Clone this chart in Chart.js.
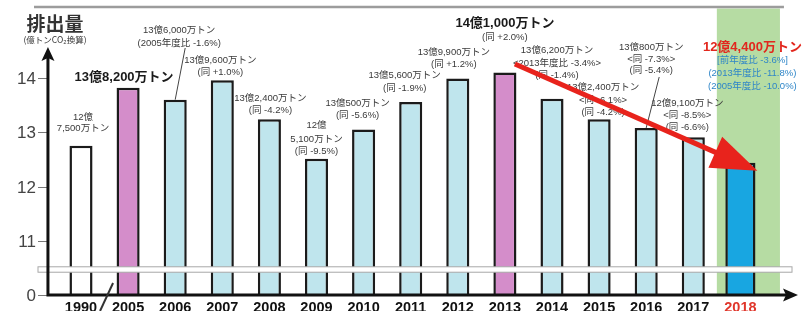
<!DOCTYPE html>
<html>
<head>
<meta charset="utf-8">
<script src="https://cdn.jsdelivr.net/npm/chart.js@4.4.1/dist/chart.umd.min.js"></script>
<style>
  html, body { margin: 0; padding: 0; background: #fff; }
</style>
</head>
<body>
<canvas id="emissionsChart" width="802" height="311"></canvas>
<script>
// 温室効果ガス排出量 (億トンCO2換算)
const years = ['1990', '2005', '2006', '2007', '2008', '2009', '2010', '2011', '2012', '2013', '2014', '2015', '2016', '2017', '2018'];
const emissions = [12.75, 13.82, 13.60, 13.96, 13.24, 12.51, 13.05, 13.56, 13.99, 14.10, 13.62, 13.24, 13.08, 12.91, 12.44];
const vs2005 = [null, null, -1.6, 1.0, -4.2, -9.5, -5.6, -1.9, 1.2, 2.0, -1.4, -4.2, -5.4, -6.6, -10.0];
const vs2013 = [null, null, null, null, null, null, null, null, null, null, -3.4, -6.1, -7.3, -8.5, -11.8];
const vsPrev = [null, null, null, null, null, null, null, null, null, null, null, null, null, null, -3.6];
const yTicks = [11, 12, 13, 14];
const yMin = 10;          // axis is broken below 11, bottom shown as "0"
const yMinLabel = '0';
const baseYears = ['2005', '2013'];
const latestYear = '2018';

const FONT = '"Liberation Sans", "Noto Sans CJK JP", sans-serif';
const iLatest = years.indexOf(latestYear);

const barColor = (yr) => {
    if (yr === latestYear) return '#18a6e1';
    if (baseYears.includes(yr)) return '#d48dca';
    if (yr === years[0]) return '#ffffff';
    return '#bfe5ed';
};

const pct = (v) => (v > 0 ? '+' : '') + v.toFixed(1) + '%';

const tonText = (v) => {
    const oku = Math.floor(v);
    const man = Math.round((v - oku) * 10000);
    return [oku + '億', man.toLocaleString('en-US') + '万トン'];
};

// where each note sits: offset from the bar centre and the middle of each text line
const noteLayout = {
    '1990': { dx: 2, ys: [117, 128], split: true },
    '2005': { dx: -4, ys: [77], big: true },
    '2006': { dx: 4, ys: [30, 43], lead: { dx: 10, y: 48 } },
    '2007': { dx: -2, ys: [60, 72] },
    '2008': { dx: 1, ys: [98, 110] },
    '2009': { dx: 0, ys: [125, 139, 151], split: true },
    '2010': { dx: -6, ys: [103, 115] },
    '2011': { dx: -6, ys: [75, 88] },
    '2012': { dx: -4, ys: [52, 64] },
    '2013': { dx: 0, ys: [23, 37], big: true },
    '2014': { dx: 5, ys: [50, 63, 75] },
    '2015': { dx: 4, ys: [87, 100, 112] },
    '2016': { dx: 5, ys: [47, 59, 70], lead: { dx: 13, y: 77 } },
    '2017': { dx: -6, ys: [103, 115, 127] },
    '2018': { dx: 12, ys: [47, 60, 73, 86], big: true }
};

const buildLines = (i) => {
    const [oku, man] = tonText(emissions[i]);
    const lay = noteLayout[years[i]];
    if (years[i] === latestYear) {
        return [oku + man, '[前年度比 ' + pct(vsPrev[i]) + ']', '(2013年度比 ' + pct(vs2013[i]) + ')', '(2005年度比 ' + pct(vs2005[i]) + ')'];
    }
    const lines = lay.split ? [oku, man] : [oku + man];
    if (vs2013[i] !== null) {
        const first = vs2013.findIndex((v, k) => v !== null && k !== iLatest) === i;
        lines.push(first ? '<2013年度比 ' + pct(vs2013[i]) + '>' : '<同 ' + pct(vs2013[i]) + '>');
    }
    if (vs2005[i] !== null) {
        const first = vs2005.findIndex((v) => v !== null) === i;
        lines.push(first ? '(2005年度比 ' + pct(vs2005[i]) + ')' : '(同 ' + pct(vs2005[i]) + ')');
    }
    return lines;
};

const decor = {
    id: 'decor',
    beforeDatasetsDraw(chart) {
        const { ctx, chartArea: a, scales: { x } } = chart;
        const half = (x.getPixelForValue(1) - x.getPixelForValue(0)) / 2;
        const xl = x.getPixelForValue(iLatest);
        ctx.save();
        ctx.fillStyle = '#b6dca3';
        ctx.fillRect(xl - half, a.top + 1, half * 2 + 16, a.bottom - a.top - 1);
        ctx.strokeStyle = '#9c9c9c';
        ctx.lineWidth = 2.5;
        ctx.beginPath();
        ctx.moveTo(34, a.top - 0.5);
        ctx.lineTo(xl + half + 20, a.top - 0.5);
        ctx.stroke();
        ctx.restore();
    },
    afterDatasetsDraw(chart) {
        const { ctx, chartArea: a, scales: { x, y } } = chart;
        const axisX = a.left - 9.5;
        const axisY = y.getPixelForValue(yMin);
        ctx.save();

        // axis break band
        const bTop = y.getPixelForValue(10.52);
        const bBot = y.getPixelForValue(10.42);
        ctx.fillStyle = '#ffffff';
        ctx.fillRect(38, bTop, 754, bBot - bTop);
        ctx.strokeStyle = '#a8a8a8';
        ctx.lineWidth = 1;
        ctx.strokeRect(38, bTop, 754, bBot - bTop);

        // y ticks
        ctx.font = '17px ' + FONT;
        ctx.fillStyle = '#444';
        ctx.textAlign = 'right';
        ctx.textBaseline = 'middle';
        ctx.strokeStyle = '#777';
        [yMin].concat(yTicks).forEach((t) => {
            const py = Math.round(y.getPixelForValue(t)) + 0.5;
            ctx.beginPath();
            ctx.moveTo(38, py);
            ctx.lineTo(axisX, py);
            ctx.stroke();
            ctx.fillText(t === yMin ? yMinLabel : String(t), 36, py + 1);
        });

        // axes with arrow heads
        ctx.strokeStyle = '#111';
        ctx.fillStyle = '#111';
        ctx.lineWidth = 3;
        ctx.beginPath();
        ctx.moveTo(axisX, axisY);
        ctx.lineTo(axisX, 58);
        ctx.moveTo(axisX - 1.5, axisY);
        ctx.lineTo(788, axisY);
        ctx.stroke();
        ctx.beginPath();
        ctx.moveTo(axisX, 47);
        ctx.lineTo(axisX - 6.5, 61);
        ctx.lineTo(axisX, 58);
        ctx.lineTo(axisX + 6.5, 61);
        ctx.closePath();
        ctx.fill();
        ctx.beginPath();
        ctx.moveTo(798, axisY);
        ctx.lineTo(783, axisY - 6.5);
        ctx.lineTo(786, axisY);
        ctx.lineTo(783, axisY + 6.5);
        ctx.closePath();
        ctx.fill();

        // break slash between 1990 and 2005
        const bx = (x.getPixelForValue(0) + x.getPixelForValue(1)) / 2;
        ctx.strokeStyle = '#333';
        ctx.lineWidth = 2;
        ctx.beginPath();
        ctx.moveTo(bx - 4.5, 311);
        ctx.lineTo(bx + 8.5, 283);
        ctx.stroke();

        // year labels
        ctx.font = 'bold 14.5px ' + FONT;
        ctx.textAlign = 'center';
        ctx.textBaseline = 'alphabetic';
        years.forEach((yr, i) => {
            ctx.fillStyle = yr === latestYear ? '#e0362b' : '#111';
            ctx.fillText(yr, x.getPixelForValue(i), 312);
        });

        // axis title
        ctx.fillStyle = '#333';
        ctx.font = 'bold 19px "Noto Sans CJK JP", sans-serif';
        ctx.textBaseline = 'middle';
        ctx.fillText('排出量', 55, 24);
        ctx.font = '8.5px "Noto Sans CJK JP", sans-serif';
        ctx.fillText('(億トンCO₂換算)', 55, 40);

        // value notes
        years.forEach((yr, i) => {
            const lay = noteLayout[yr];
            const bxp = x.getPixelForValue(i);
            const cx = bxp + lay.dx;
            const lines = buildLines(i);
            lines.forEach((txt, k) => {
                if (k === 0 && lay.big) {
                    ctx.font = 'bold 13px ' + FONT;
                    ctx.fillStyle = yr === latestYear ? '#e2271d' : '#1a1a1a';
                } else {
                    ctx.font = '9.5px ' + FONT;
                    ctx.fillStyle = yr === latestYear ? '#2f86c8' : '#3a3a3a';
                }
                ctx.fillText(txt, cx, lay.ys[k]);
            });
            if (lay.lead) {
                ctx.strokeStyle = '#444';
                ctx.lineWidth = 1;
                ctx.beginPath();
                ctx.moveTo(bxp + lay.lead.dx, lay.lead.y);
                ctx.lineTo(bxp, y.getPixelForValue(emissions[i]));
                ctx.stroke();
            }
        });

        // red trend arrow from 2013 to the latest year
        const i13 = years.indexOf('2013');
        const sx = x.getPixelForValue(i13) + 10;
        const sy = y.getPixelForValue(14.26);
        const tx = x.getPixelForValue(iLatest) + 17;
        const ty = y.getPixelForValue(12.29);
        const len = Math.hypot(tx - sx, ty - sy);
        const ux = (tx - sx) / len;
        const uy = (ty - sy) / len;
        const hl = 46;
        const hw = 17;
        const hx = tx - ux * hl;
        const hy = ty - uy * hl;
        ctx.strokeStyle = '#e8231c';
        ctx.fillStyle = '#e8231c';
        ctx.lineWidth = 5;
        ctx.beginPath();
        ctx.moveTo(sx, sy);
        ctx.lineTo(hx + ux * 4, hy + uy * 4);
        ctx.stroke();
        ctx.beginPath();
        ctx.moveTo(tx, ty);
        ctx.lineTo(hx - uy * hw, hy + ux * hw);
        ctx.lineTo(hx + uy * hw, hy - ux * hw);
        ctx.closePath();
        ctx.fill();

        ctx.restore();
    }
};

new Chart(document.getElementById('emissionsChart').getContext('2d'), {
    type: 'bar',
    data: {
        labels: years,
        datasets: [
            {
                data: emissions.map((v, i) => (i === iLatest ? null : v)),
                backgroundColor: years.map(barColor),
                borderColor: '#1b1b1b',
                borderWidth: 2.5,
                borderSkipped: false,
                barPercentage: 0.49,
                categoryPercentage: 1,
                grouped: false,
            },
            {
                data: emissions.map((v, i) => (i === iLatest ? v : null)),
                backgroundColor: barColor(latestYear),
                borderColor: '#1b1b1b',
                borderWidth: 2.5,
                borderSkipped: false,
                barPercentage: 0.64,
                categoryPercentage: 1,
                grouped: false,
            },
        ],
    },
    options: {
        responsive: false,
        animation: false,
        devicePixelRatio: 1,
        layout: { padding: { left: 57.45, right: 38.05, top: 7.5, bottom: 16 } },
        plugins: {
            legend: { display: false },
            tooltip: { enabled: false },
        },
        scales: {
            x: { display: false, offset: true },
            y: { display: false, min: yMin, max: 15.3 },
        },
    },
    plugins: [decor],
});
</script>
</body>
</html>
